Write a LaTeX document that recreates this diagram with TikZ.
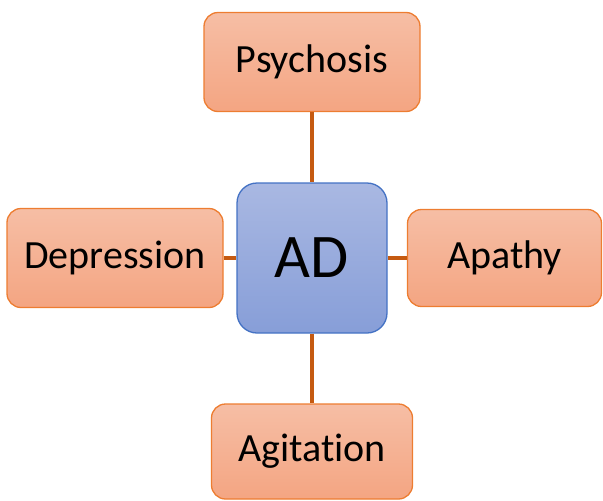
\documentclass[tikz,border=0pt]{standalone}
\usepackage{fontspec}
\setmainfont[Ligatures={NoCommon}]{Carlito}
\definecolor{obord}{HTML}{ED7D31}
\definecolor{otop}{HTML}{F6BEA5}
\definecolor{obot}{HTML}{F4A582}
\definecolor{bbord}{HTML}{4472C4}
\definecolor{btop}{HTML}{A9B8E2}
\definecolor{bbot}{HTML}{879ED8}
\definecolor{link}{HTML}{C55A11}
\tikzset{
  obox/.style={draw=obord, line width=1.3pt, rounded corners=14pt, top color=otop, bottom color=obot, font=\fontsize{40}{44}\selectfont, inner sep=0pt},
  bbox/.style={draw=bbord, line width=1.3pt, rounded corners=20pt, top color=btop, bottom color=bbot, font=\fontsize{62}{66}\selectfont, inner sep=0pt, minimum width=150pt, minimum height=150pt},
  linkline/.style={draw=link, line width=3.5pt}
}
\begin{document}
\begin{tikzpicture}[x=1pt,y=-1pt]
\useasboundingbox (0,0) rectangle (603,501);
\node[bbox] (ad) at (312,258) {AD};
\node[obox, minimum width=216pt, minimum height=99pt] (psy) at (312,62) {Psychosis};
\node[obox, minimum width=216pt, minimum height=99pt] (dep) at (115,258) {Depression};
\node[obox, minimum width=194pt, minimum height=97pt] (apa) at (504.5,258) {Apathy};
\node[obox, minimum width=201pt, minimum height=95pt] (agi) at (312,451.5) {Agitation};
\draw[linkline] (psy.south) -- (ad.north);
\draw[linkline] (ad.south) -- (agi.north);
\draw[linkline] (dep.east) -- (ad.west);
\draw[linkline] (ad.east) -- (apa.west);
\end{tikzpicture}
\end{document}
